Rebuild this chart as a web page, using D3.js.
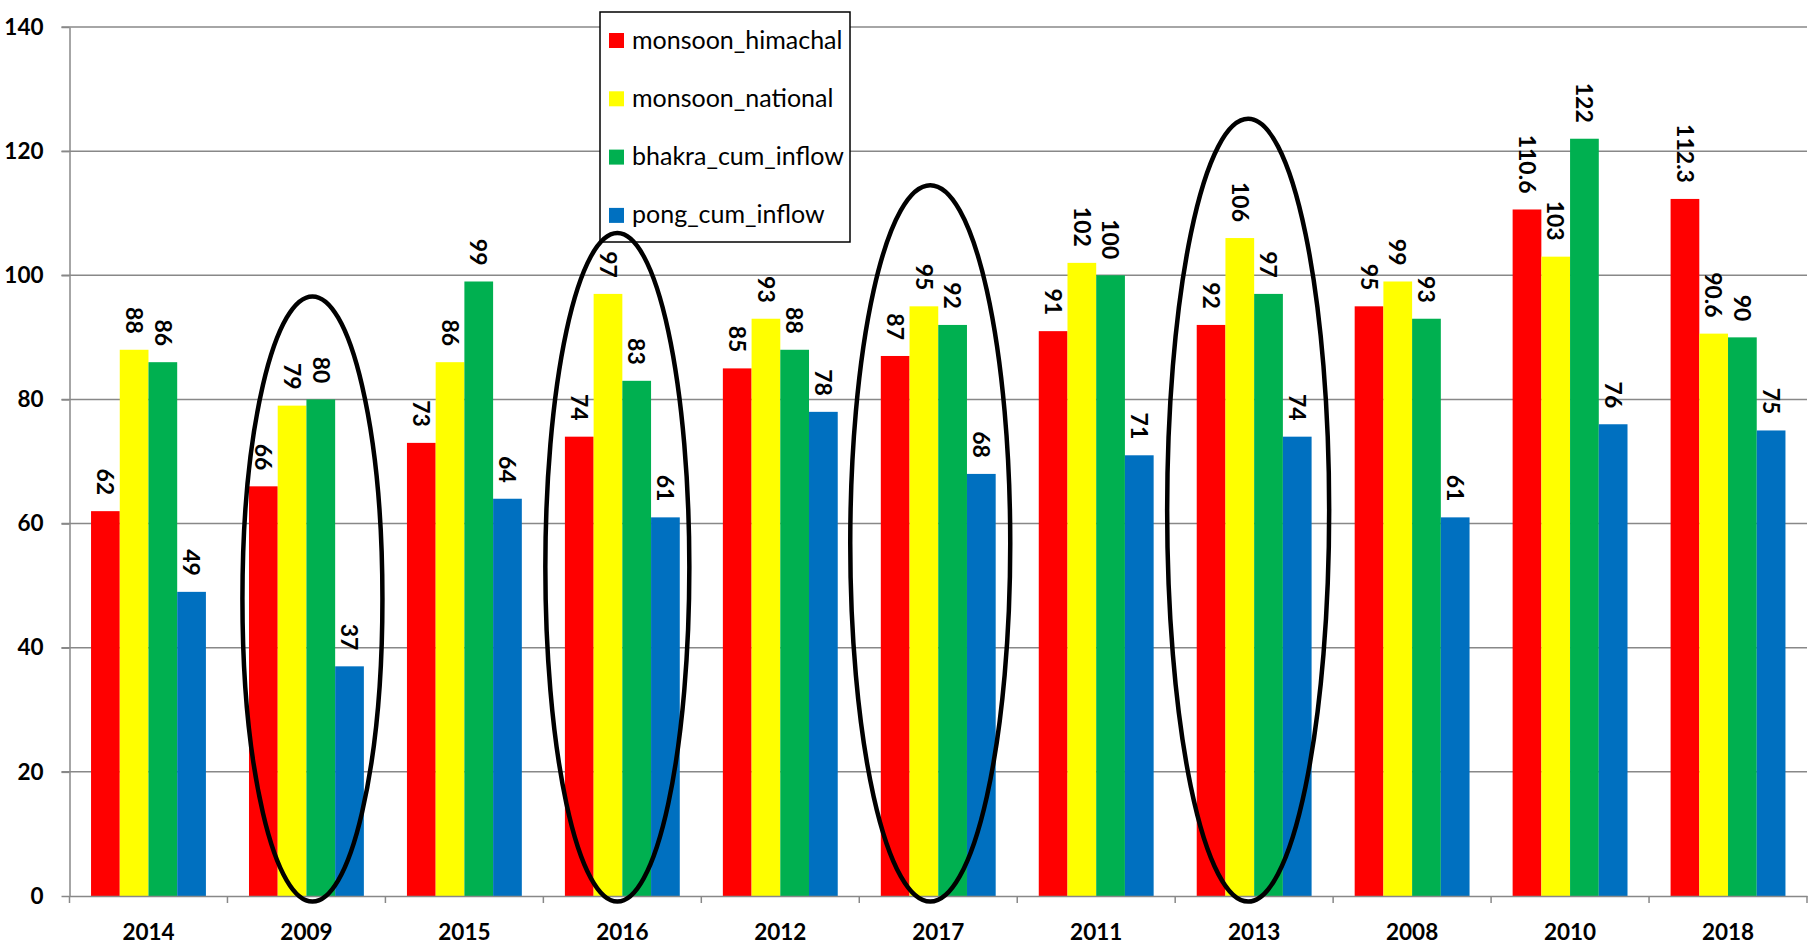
<!DOCTYPE html>
<html>
<head>
<meta charset="utf-8">
<script src="https://cdn.jsdelivr.net/npm/d3@7"></script>
<style>
  html, body { margin: 0; padding: 0; background: #fff; }
  svg { display: block; }
  text { font-family: Lato, "Open Sans", sans-serif; }
</style>
</head>
<body>
<svg id="chart" width="1816" height="947"></svg>
<script>
// Years in the order they appear along the axis
const years = ["2014", "2009", "2015", "2016", "2012", "2017", "2011", "2013", "2008", "2010", "2018"];

// Series names and their values (percent)
const seriesNames = ["monsoon_himachal", "monsoon_national", "bhakra_cum_inflow", "pong_cum_inflow"];
const monsoonHimachal = [62, 66, 73, 74, 85, 87, 91, 92, 95, 110.6, 112.3];
const monsoonNational = [88, 79, 86, 97, 93, 95, 102, 106, 99, 103, 90.6];
const bhakraCumInflow = [86, 80, 99, 83, 88, 92, 100, 97, 93, 122, 90];
const pongCumInflow   = [49, 37, 64, 61, 78, 68, 71, 74, 61, 76, 75];

const yTicks = [0, 20, 40, 60, 80, 100, 120, 140];

// Years circled on the chart, with the value span each outline covers
const circledYears = [
  { year: "2009", top: 96.6, bottom: -0.9, dx: 6,  rx: 70 },
  { year: "2016", top: 106.8, bottom: -0.9, dx: -5, rx: 72 },
  { year: "2017", top: 114.5, bottom: -0.9, dx: -8, rx: 80 },
  { year: "2013", top: 125.2, bottom: -0.9, dx: -6, rx: 81 }
];

const colors = ["#FF0000", "#FFFF00", "#00B050", "#0070C0"];
const seriesValues = [monsoonHimachal, monsoonNational, bhakraCumInflow, pongCumInflow];

const svg = d3.select("#chart");
const plotLeft = 69.5, plotRight = 1807, plotTop = 27, plotBottom = 896;
const gridColor = "#888888";

const x = d3.scaleBand().domain(years).range([plotLeft, plotRight]).paddingInner(0).paddingOuter(0);
const xs = d3.scaleBand().domain(seriesNames).range([0, x.bandwidth()]).paddingInner(0).paddingOuter(0.75);
const y = d3.scaleLinear().domain([0, 140]).range([plotBottom, plotTop]);

// Horizontal gridlines with short outward ticks
svg.append("g").selectAll("line").data(yTicks.filter(t => t > 0)).join("line")
  .attr("x1", plotLeft - 8).attr("x2", plotRight)
  .attr("y1", d => y(d)).attr("y2", d => y(d))
  .attr("stroke", gridColor).attr("stroke-width", 1.5);

// Y axis
const yAxis = svg.append("g").attr("transform", `translate(${plotLeft},0)`)
  .call(d3.axisLeft(y).tickValues(yTicks).tickSize(8).tickPadding(18).tickSizeOuter(0));
yAxis.select(".domain").attr("stroke", gridColor).attr("stroke-width", 1.5);
yAxis.selectAll(".tick line").attr("stroke", gridColor).attr("stroke-width", 1.5);
yAxis.selectAll(".tick text")
  .attr("font-family", "Lato, sans-serif").attr("font-weight", "bold")
  .attr("font-size", 22.5).attr("fill", "#000");

// Bars
const groups = svg.append("g").selectAll("g").data(years).join("g")
  .attr("transform", d => `translate(${x(d)},0)`);

groups.selectAll("rect")
  .data((yr, i) => seriesNames.map((s, k) => ({ s, k, v: seriesValues[k][i] })))
  .join("rect")
  .attr("x", d => xs(d.s))
  .attr("width", xs.bandwidth())
  .attr("y", d => y(d.v))
  .attr("height", d => y(0) - y(d.v))
  .attr("fill", d => colors[d.k]);

// Value labels, rotated, sitting above each bar
groups.selectAll("text.val")
  .data((yr, i) => seriesNames.map((s, k) => ({ s, k, v: seriesValues[k][i] })))
  .join("text")
  .attr("class", "val")
  .attr("transform", d => `translate(${xs(d.s) + xs.bandwidth() / 2},${y(d.v) - 16}) rotate(90)`)
  .attr("text-anchor", "end")
  .attr("dy", "0.36em")
  .attr("font-weight", "bold")
  .attr("font-size", 23)
  .attr("fill", "#000")
  .text(d => d.v);

// X axis
const xAxis = svg.append("g").attr("transform", `translate(0,${plotBottom})`)
  .call(d3.axisBottom(x).tickSize(0).tickPadding(28).tickSizeOuter(0));
xAxis.select(".domain").attr("stroke", gridColor).attr("stroke-width", 1.5);
xAxis.selectAll(".tick text")
  .attr("font-family", "Lato, sans-serif").attr("font-weight", "bold")
  .attr("font-size", 22.5).attr("fill", "#000");
// Category boundary ticks
svg.append("g").selectAll("line")
  .data(d3.range(years.length + 1))
  .join("line")
  .attr("x1", i => plotLeft + i * x.step()).attr("x2", i => plotLeft + i * x.step())
  .attr("y1", plotBottom).attr("y2", plotBottom + 7)
  .attr("stroke", gridColor).attr("stroke-width", 1.5);

// Legend
const legend = svg.append("g").attr("transform", "translate(600,12)");
legend.append("rect").attr("width", 250).attr("height", 230)
  .attr("fill", "#fff").attr("stroke", "#000").attr("stroke-width", 1.5);
const items = legend.selectAll("g").data(seriesNames).join("g")
  .attr("transform", (d, i) => `translate(9,${28.5 + i * 58.3})`);
items.append("rect").attr("x", 0).attr("y", -7.5).attr("width", 15).attr("height", 15)
  .attr("fill", (d, i) => colors[i]);
items.append("text").attr("x", 23).attr("y", 8)
  .attr("font-size", 25).attr("fill", "#000").text(d => d);

// Outlines around the circled years
svg.append("g").selectAll("ellipse").data(circledYears).join("ellipse")
  .attr("cx", d => x(d.year) + x.bandwidth() / 2 + d.dx)
  .attr("cy", d => (y(d.top) + y(d.bottom)) / 2)
  .attr("rx", d => d.rx)
  .attr("ry", d => (y(d.bottom) - y(d.top)) / 2)
  .attr("fill", "none").attr("stroke", "#000").attr("stroke-width", 4.5);
</script>
</body>
</html>
